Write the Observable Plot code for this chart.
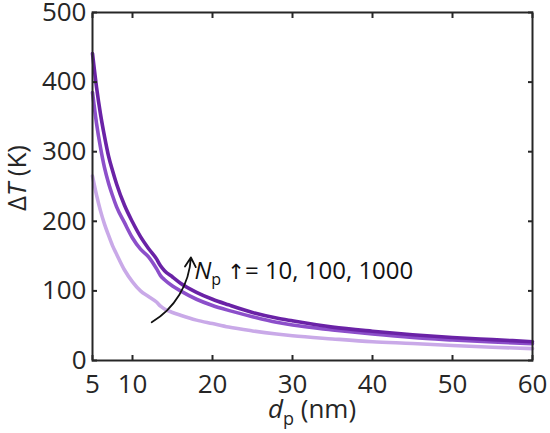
<!DOCTYPE html>
<html><head><meta charset="utf-8">
<script src="https://cdn.jsdelivr.net/npm/d3@7"></script>
<script src="https://cdn.jsdelivr.net/npm/@observablehq/plot@0.6"></script>
<style>
body{margin:0;background:#fff;}
#chart svg{display:block;}
</style></head><body><div id="chart"></div>
<script>
// particle diameter d_p (nm)
const dp = [5,5.5,6,6.5,7,7.5,8,9,10,11,12,13,13.5,14,15,16,18,20,22,25,28,30,35,40,45,50,55,60];
// temperature rise ΔT (K) for N_p = 10, 100, 1000
const dT_N10   = [265,238,215,196,180,165,153,130,113,100,92,84,78,74,69,65,58,53,48,42.5,38,35.5,31,27,24.5,21.5,19,17];
const dT_N100  = [385,341,306,277,255,237,221,198,176,160,149,132,122,116,107,100,88,79,72,63,55,51,44,38,33,29.5,26.5,24];
const dT_N1000 = [441,393,354,322,294,273,254,223,199,178,161,146,136,129,120,111,98,88,80,69,61,57,48,42,37,33,30,27];
const seriesNames = ["10","100","1000"];
const seriesColors = ["#c9a9e8","#8c4fca","#6a22a6"];
const xTicks = [5,10,20,30,40,50,60];
const yTicks = [0,100,200,300,400,500];
const annotArrowGlyph = "↑";
const annotText = "= 10, 100, 1000";
const annotPos = {x: 17.8, y: 117};
const arrowPos = [{x1: 12.4, y1: 55, x2: 17.3, y2: 148}];

const rows = [];
[dT_N10, dT_N100, dT_N1000].forEach((arr, i) =>
  arr.forEach((v, j) => rows.push({dp: dp[j], dT: v, N: seriesNames[i]})));

const ink = "#262626";
const chart = Plot.plot({
  width: 550, height: 433,
  marginLeft: 92, marginRight: 18, marginTop: 12, marginBottom: 73,
  style: {fontFamily: "'Open Sans', sans-serif", fontSize: "26px", color: ink, background: "#fff"},
  x: {domain: [5, 60]},
  y: {domain: [0, 500]},
  color: {domain: seriesNames, range: seriesColors},
  marks: [
    Plot.line(rows, {x: "dp", y: "dT", z: "N", stroke: "N", strokeWidth: 3.6, curve: "monotone-x"}),
    Plot.arrow(arrowPos, {x1: "x1", y1: "y1", x2: "x2", y2: "y2", bend: -28, headLength: 9, stroke: "#111", strokeWidth: 1.8}),
    Plot.axisX(xTicks, {anchor: "bottom", tickSize: -5, tickFormat: () => "", strokeWidth: 2, stroke: ink, label: null}),
    Plot.axisX(xTicks, {anchor: "top", tickSize: -5, tickFormat: () => "", strokeWidth: 2, stroke: ink, label: null}),
    Plot.axisY(yTicks, {anchor: "left", tickSize: -5, tickFormat: () => "", strokeWidth: 2, stroke: ink, label: null}),
    Plot.axisY(yTicks, {anchor: "right", tickSize: -5, tickFormat: () => "", strokeWidth: 2, stroke: ink, label: null}),
    Plot.axisX(xTicks, {anchor: "bottom", tickSize: 0, tickPadding: 14, fill: ink, label: null}),
    Plot.axisY(yTicks, {anchor: "left", tickSize: 0, tickPadding: 6, fill: ink, label: null}),
    Plot.frame({stroke: ink, strokeWidth: 2})
  ]
});
document.getElementById("chart").appendChild(chart);

const svg = d3.select(chart);
const xs = chart.scale("x"), ys = chart.scale("y");
// y-axis label
const yl = svg.append("text")
  .attr("transform", "translate(17,178) rotate(-90)")
  .attr("text-anchor", "middle").attr("dy", "0.35em")
  .attr("font-size", 26).attr("fill", ink);
yl.append("tspan").text("Δ");
yl.append("tspan").attr("font-style", "italic").text("T");
yl.append("tspan").text(" (K)");
// x-axis label
const xl = svg.append("text")
  .attr("x", 312).attr("y", 418).attr("text-anchor", "middle")
  .attr("font-size", 26).attr("fill", ink);
xl.append("tspan").attr("font-style", "italic").text("d");
xl.append("tspan").attr("font-size", 18).attr("dy", 7).text("p");
xl.append("tspan").attr("dy", -7).text(" (nm)");
// annotation
const at = svg.append("text")
  .attr("x", xs.apply(annotPos.x)).attr("y", ys.apply(annotPos.y))
  .attr("text-anchor", "start")
  .attr("font-size", 24).attr("fill", "#111");
at.append("tspan").attr("font-style", "italic").text("N");
at.append("tspan").attr("font-size", 16).attr("dy", 6).text("p");
at.append("tspan").attr("dy", -6).text(" ");
at.append("tspan").attr("font-family", "'DejaVu Sans'").attr("font-size", 21).text(annotArrowGlyph);
at.append("tspan").text(annotText);
</script></body></html>
